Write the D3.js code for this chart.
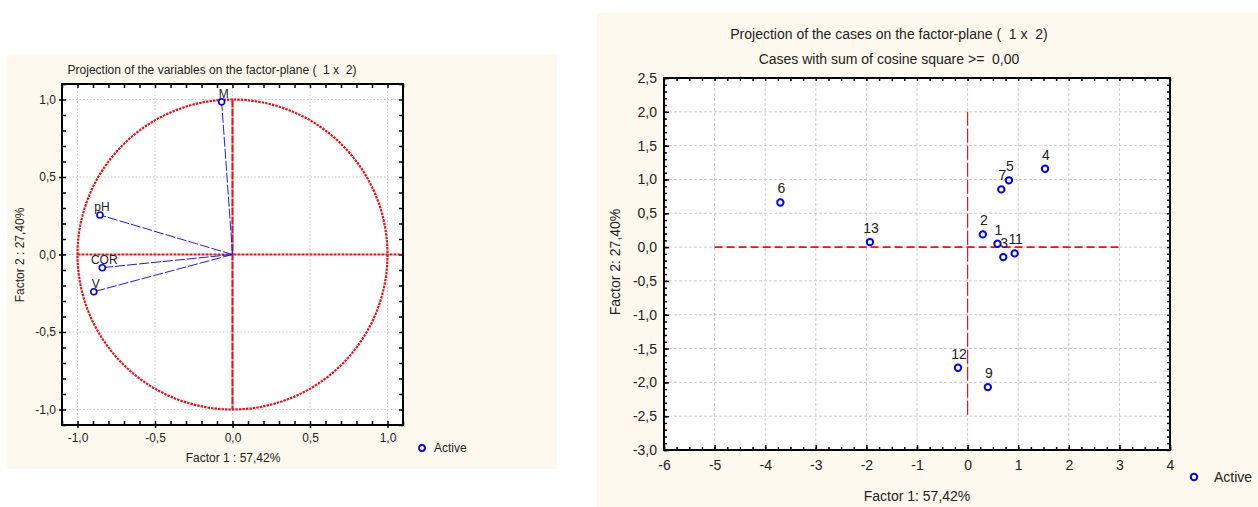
<!DOCTYPE html>
<html>
<head>
<meta charset="utf-8">
<script src="https://cdn.jsdelivr.net/npm/d3@7"></script>
<style>
  body { margin: 0; background: #fff; }
  svg text { font-family: "Liberation Sans", Arial, sans-serif; }
</style>
</head>
<body>
<div id="chart"></div>
<script>
// variables plot (factor loadings)
const varNames = ["M", "pH", "COR", "V"];
const varF1 = [-0.07, -0.855, -0.84, -0.895];
const varF2 = [0.985, 0.255, -0.085, -0.24];
const varTicks = [-1, -0.5, 0, 0.5, 1];

// cases plot (factor scores)
const caseIds = ["1", "2", "3", "4", "5", "6", "7", "9", "11", "12", "13"];
const caseF1 = [0.59, 0.30, 0.705, 1.53, 0.816, -3.70, 0.666, 0.40, 0.93, -0.19, -1.93];
const caseF2 = [0.049, 0.188, -0.148, 1.158, 0.987, 0.66, 0.853, -2.07, -0.093, -1.785, 0.074];
const caseXTicks = [-6, -5, -4, -3, -2, -1, 0, 1, 2, 3, 4];
const caseYTicks = [-3, -2.5, -2, -1.5, -1, -0.5, 0, 0.5, 1, 1.5, 2, 2.5];

const loc = d3.formatLocale({decimal: ",", thousands: ".", grouping: [3], currency: ["", ""], minus: "-"});
const f1 = loc.format(".1f");
const f2 = loc.format(".2f");
const f0 = loc.format("d");

const cream = "#fdf9ee";
const lFont = 12, rFont = 14;

var svg = d3.select("#chart").append("svg")
  .attr("width", 1258)
  .attr("height", 507);

function tickAxis(g, axis) {
  g.call(axis);
  g.select(".domain").remove();
  g.selectAll("line").attr("stroke", "#000").attr("stroke-width", 1.5);
}

// ---------------- Left chart ----------------
svg.append("rect").attr("x", 7).attr("y", 55).attr("width", 550).attr("height", 414).attr("fill", cream);

var L = svg.append("g");
var lx = d3.scaleLinear().domain([-1.1, 1.1]).range([62, 403]);
var ly = d3.scaleLinear().domain([-1.1, 1.1]).range([425, 84]);

L.append("rect").attr("x", 62).attr("y", 84).attr("width", 341).attr("height", 341).attr("fill", "#fff");

// grid
L.selectAll(".gx").data(varTicks).enter().append("line")
  .attr("x1", d => lx(d)).attr("x2", d => lx(d)).attr("y1", 84).attr("y2", 425)
  .attr("stroke", "#c8c8c8").attr("stroke-dasharray", "1.5,2");
L.selectAll(".gy").data(varTicks).enter().append("line")
  .attr("y1", d => ly(d)).attr("y2", d => ly(d)).attr("x1", 62).attr("x2", 403)
  .attr("stroke", "#c8c8c8").attr("stroke-dasharray", "1.5,2");

// minor ticks (inside) on all sides
var lMinor = d3.range(-11, 12).map(i => i / 10);
L.append("g").attr("transform", "translate(0,425)").call(g => tickAxis(g, d3.axisBottom(lx).tickValues(lMinor).tickSize(-4).tickFormat("")));
L.append("g").attr("transform", "translate(0,84)").call(g => tickAxis(g, d3.axisTop(lx).tickValues(lMinor).tickSize(-4).tickFormat("")));
L.append("g").attr("transform", "translate(62,0)").call(g => tickAxis(g, d3.axisLeft(ly).tickValues(lMinor).tickSize(-4).tickFormat("")));
L.append("g").attr("transform", "translate(403,0)").call(g => tickAxis(g, d3.axisRight(ly).tickValues(lMinor).tickSize(-4).tickFormat("")));

// labelled axes
var lxa = L.append("g").attr("transform", "translate(0,425)")
  .call(d3.axisBottom(lx).tickValues(varTicks).tickSize(3).tickPadding(5).tickFormat(f1));
var lya = L.append("g").attr("transform", "translate(62,0)")
  .call(d3.axisLeft(ly).tickValues(varTicks).tickSize(3).tickPadding(3).tickFormat(f1));
[lxa, lya].forEach(g => {
  g.select(".domain").remove();
  g.selectAll("line").attr("stroke", "#000").attr("stroke-width", 1.5);
  g.selectAll("text").attr("font-size", lFont).attr("fill", "#222");
});

// red circle and axes lines
L.append("circle").attr("cx", lx(0)).attr("cy", ly(0)).attr("r", lx(1) - lx(0))
  .attr("fill", "none").attr("stroke", "#e8141c").attr("stroke-width", 2.2).attr("stroke-dasharray", "2.5,1");
L.append("line").attr("x1", lx(-1)).attr("x2", lx(1.1)).attr("y1", ly(0)).attr("y2", ly(0))
  .attr("stroke", "#e8141c").attr("stroke-width", 2.2).attr("stroke-dasharray", "3,1");
L.append("line").attr("x1", lx(0)).attr("x2", lx(0)).attr("y1", ly(1)).attr("y2", ly(-1))
  .attr("stroke", "#e8141c").attr("stroke-width", 2.2).attr("stroke-dasharray", "8,1");

// vectors
var vars = varNames.map((n, i) => ({name: n, x: varF1[i], y: varF2[i]}));
L.selectAll(".vec").data(vars).enter().append("line")
  .attr("x1", lx(0)).attr("y1", ly(0))
  .attr("x2", d => lx(d.x)).attr("y2", d => ly(d.y))
  .attr("stroke", "#1a1aff").attr("stroke-width", 1).attr("stroke-dasharray", "10,2");
L.selectAll(".vpt").data(vars).enter().append("circle")
  .attr("cx", d => lx(d.x)).attr("cy", d => ly(d.y)).attr("r", 3)
  .attr("fill", "#fff").attr("stroke", "#0000ff").attr("stroke-width", 1.6);
L.selectAll(".vlab").data(vars).enter().append("text")
  .attr("x", d => lx(d.x) + 2).attr("y", d => ly(d.y) - 4)
  .attr("text-anchor", "middle").attr("font-size", lFont).attr("fill", "#222")
  .text(d => d.name);

// frame
L.append("rect").attr("x", 62).attr("y", 84).attr("width", 341).attr("height", 341)
  .attr("fill", "none").attr("stroke", "#000").attr("stroke-width", 2);

// titles
L.append("text").attr("x", 212).attr("y", 74).attr("text-anchor", "middle").attr("font-size", lFont).attr("fill", "#222")
  .attr("xml:space", "preserve").text("Projection of the variables on the factor-plane (  1 x  2)");
L.append("text").attr("x", 233).attr("y", 462).attr("text-anchor", "middle").attr("font-size", lFont).attr("fill", "#222")
  .text("Factor 1 : 57,42%");
L.append("text").attr("transform", "translate(24,255) rotate(-90)").attr("text-anchor", "middle").attr("font-size", lFont).attr("fill", "#222")
  .text("Factor 2 : 27,40%");

// legend
L.append("circle").attr("cx", 422).attr("cy", 448).attr("r", 3)
  .attr("fill", "#fff").attr("stroke", "#0000ff").attr("stroke-width", 1.8);
L.append("text").attr("x", 434).attr("y", 452).attr("font-size", lFont).attr("fill", "#222").text("Active");

// ---------------- Right chart ----------------
svg.append("rect").attr("x", 597).attr("y", 13).attr("width", 661).attr("height", 494).attr("fill", cream);

var R = svg.append("g");
var rx = d3.scaleLinear().domain([-6, 4]).range([664, 1170]);
var ry = d3.scaleLinear().domain([-3, 2.5]).range([450, 78]);

R.append("rect").attr("x", 664).attr("y", 78).attr("width", 506).attr("height", 372).attr("fill", "#fff");

R.selectAll(".gx").data(caseXTicks).enter().append("line")
  .attr("x1", d => rx(d)).attr("x2", d => rx(d)).attr("y1", 78).attr("y2", 450)
  .attr("stroke", "#cccccc").attr("stroke-dasharray", "3,2");
R.selectAll(".gy").data(caseYTicks).enter().append("line")
  .attr("y1", d => ry(d)).attr("y2", d => ry(d)).attr("x1", 664).attr("x2", 1170)
  .attr("stroke", "#cccccc").attr("stroke-dasharray", "3,2");

var rxMinor = d3.range(-24, 17).map(i => i / 4);
var ryMinor = d3.range(-30, 26).map(i => i / 10);
R.append("g").attr("transform", "translate(0,450)").call(g => tickAxis(g, d3.axisBottom(rx).tickValues(rxMinor).tickSize(-3).tickFormat("")));
R.append("g").attr("transform", "translate(0,78)").call(g => tickAxis(g, d3.axisTop(rx).tickValues(rxMinor).tickSize(-3).tickFormat("")));
R.append("g").attr("transform", "translate(664,0)").call(g => tickAxis(g, d3.axisLeft(ry).tickValues(ryMinor).tickSize(-3).tickFormat("")));
R.append("g").attr("transform", "translate(1170,0)").call(g => tickAxis(g, d3.axisRight(ry).tickValues(ryMinor).tickSize(-3).tickFormat("")));

var rxa = R.append("g").attr("transform", "translate(0,450)")
  .call(d3.axisBottom(rx).tickValues(caseXTicks).tickSize(-5).tickPadding(10).tickFormat(f0));
var rya = R.append("g").attr("transform", "translate(664,0)")
  .call(d3.axisLeft(ry).tickValues(caseYTicks).tickSize(-5).tickPadding(7).tickFormat(f1));
[rxa, rya].forEach(g => {
  g.select(".domain").remove();
  g.selectAll("line").attr("stroke", "#000").attr("stroke-width", 1.5);
  g.selectAll("text").attr("font-size", rFont).attr("fill", "#222");
});

// red reference lines
R.append("line").attr("x1", rx(-5)).attr("x2", rx(3)).attr("y1", ry(0)).attr("y2", ry(0))
  .attr("stroke", "#e8141c").attr("stroke-width", 1.8).attr("stroke-dasharray", "8,4");
R.append("line").attr("x1", rx(0)).attr("x2", rx(0)).attr("y1", ry(2)).attr("y2", ry(-2.5))
  .attr("stroke", "#e8141c").attr("stroke-width", 1.2).attr("stroke-dasharray", "14,3");

// points
var cases = caseIds.map((id, i) => ({id: id, x: caseF1[i], y: caseF2[i]}));
R.selectAll(".cpt").data(cases).enter().append("circle")
  .attr("cx", d => rx(d.x)).attr("cy", d => ry(d.y)).attr("r", 3.2)
  .attr("fill", "#fff").attr("stroke", "#0000ff").attr("stroke-width", 2);
R.selectAll(".clab").data(cases).enter().append("text")
  .attr("x", d => rx(d.x) + 1).attr("y", d => ry(d.y) - 9)
  .attr("text-anchor", "middle").attr("font-size", rFont).attr("fill", "#222")
  .text(d => d.id);

R.append("rect").attr("x", 664).attr("y", 78).attr("width", 506).attr("height", 372)
  .attr("fill", "none").attr("stroke", "#000").attr("stroke-width", 2);

R.append("text").attr("x", 889).attr("y", 39).attr("text-anchor", "middle").attr("font-size", rFont).attr("fill", "#222")
  .attr("xml:space", "preserve").text("Projection of the cases on the factor-plane (  1 x  2)");
R.append("text").attr("x", 889).attr("y", 64).attr("text-anchor", "middle").attr("font-size", rFont).attr("fill", "#222")
  .attr("xml:space", "preserve").text("Cases with sum of cosine square >=  " + f2(0));
R.append("text").attr("x", 917).attr("y", 501).attr("text-anchor", "middle").attr("font-size", rFont).attr("fill", "#222")
  .text("Factor 1: 57,42%");
R.append("text").attr("transform", "translate(620,262) rotate(-90)").attr("text-anchor", "middle").attr("font-size", rFont).attr("fill", "#222")
  .text("Factor 2: 27,40%");

R.append("circle").attr("cx", 1194).attr("cy", 477).attr("r", 3.2)
  .attr("fill", "#fff").attr("stroke", "#0000ff").attr("stroke-width", 2);
R.append("text").attr("x", 1214).attr("y", 482).attr("font-size", rFont).attr("fill", "#222").text("Active");
</script>
</body>
</html>
